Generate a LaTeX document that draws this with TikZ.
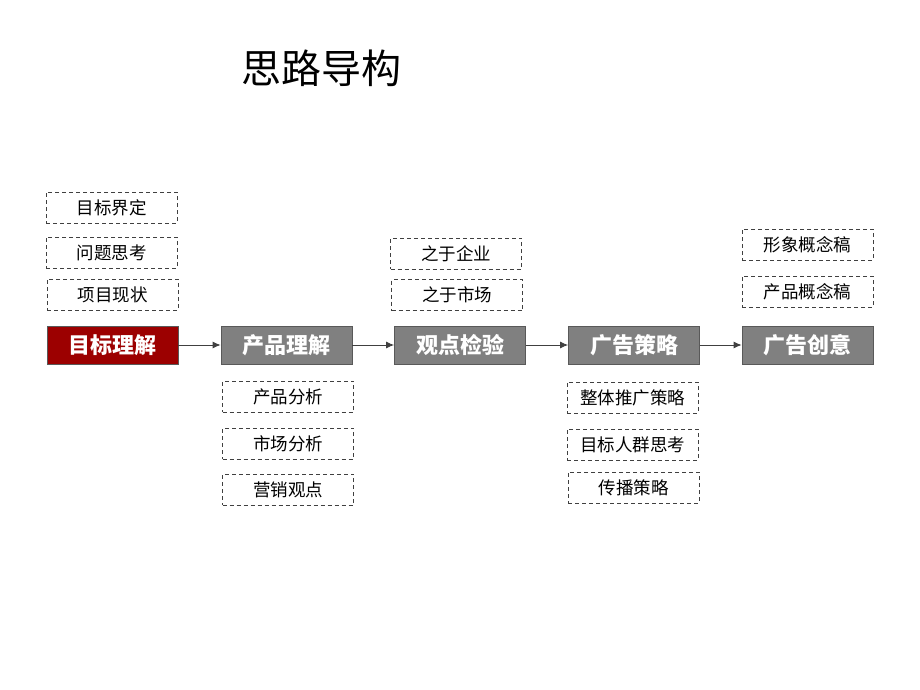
\documentclass[tikz,border=0pt]{standalone}
\usepackage{fontspec}
\setmainfont{Noto Sans CJK SC}
\usetikzlibrary{arrows.meta,calc}

\begin{document}
\begin{tikzpicture}[x=1pt, y=-1pt]
    \tikzstyle{mainbox} = [rectangle, minimum width=131pt, minimum height=38pt, inner sep=0pt, draw=black!65, line width=0.8pt, fill=black!50, text=white, font=\fontsize{22}{22}\selectfont\bfseries]
    \tikzstyle{firstbox} = [mainbox, fill={rgb,255:red,156;green,0;blue,0}]
    \tikzstyle{subbox} = [rectangle, minimum width=131pt, minimum height=31pt, inner sep=0pt, draw=black!75, dash pattern=on 4pt off 3pt, line width=0.8pt, font=\fontsize{17.5}{17.5}\selectfont]
    \tikzstyle{arrow} = [line width=0.9pt, draw=black!75, -{Latex[length=8pt,width=7pt]}]

    \useasboundingbox (0,0) rectangle (920,690);

    \node (title) at (321,68) {\fontsize{40}{40}\selectfont 思路导构};

    % main row
    \node (goal) [firstbox] at (112.5,345) {目标理解};
    \node (product) [mainbox] at (286.5,345) {产品理解};
    \node (check) [mainbox] at (460,345) {观点检验};
    \node (strategy) [mainbox] at (634,345) {广告策略};
    \node (creative) [mainbox] at (807.5,345) {广告创意};

    % dashed boxes
    \node (define) [subbox] at (111.5,207.5) {目标界定};
    \node (question) [subbox] at (111.5,252.5) {问题思考};
    \node (status) [subbox] at (112.5,294.5) {项目现状};

    \node (company) [subbox] at (456,253.5) {之于企业};
    \node (market) [subbox] at (457,295) {之于市场};

    \node (image) [subbox] at (807.5,244.5) {形象概念稿};
    \node (concept) [subbox] at (807.5,291.5) {产品概念稿};

    \node (analysis) [subbox] at (288,396.5) {产品分析};
    \node (marketan) [subbox] at (288,443.5) {市场分析};
    \node (view) [subbox] at (288,489.5) {营销观点};

    \node (promo) [subbox] at (632.5,397.5) {整体推广策略};
    \node (people) [subbox] at (632.5,444.5) {目标人群思考};
    \node (spread) [subbox] at (633.5,487.5) {传播策略};

    \draw [arrow] (goal) -- (product);
    \draw [arrow] (product) -- (check);
    \draw [arrow] (check) -- (strategy);
    \draw [arrow] (strategy) -- (creative);

\end{tikzpicture}
\end{document}
